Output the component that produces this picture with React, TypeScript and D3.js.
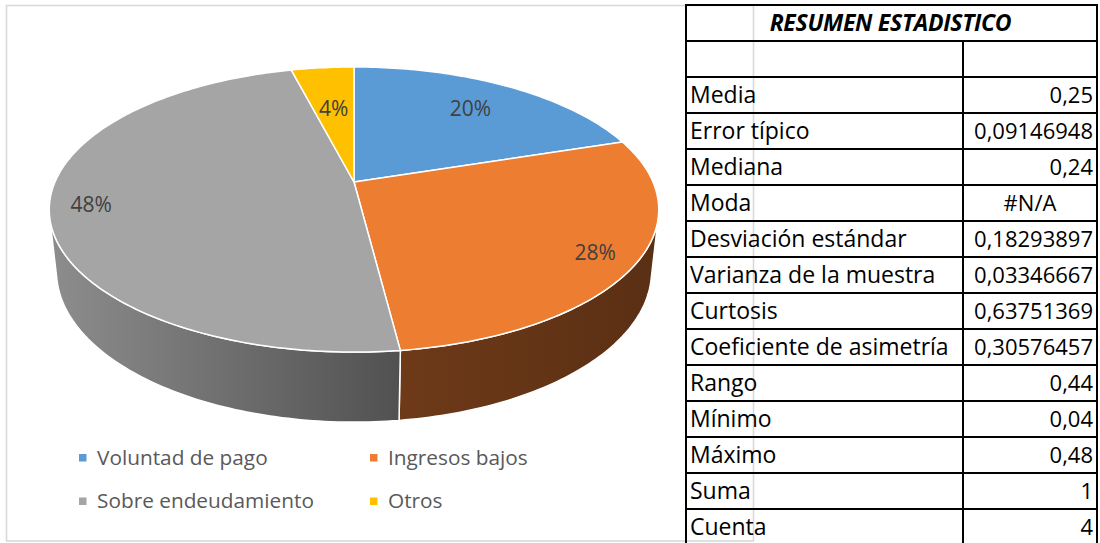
import React from 'react';
import * as d3 from 'd3';

const categories = ["Voluntad de pago", "Ingresos bajos", "Sobre endeudamiento", "Otros"];
const shares = [20, 28, 48, 4];
const topColors = ["#5B9BD5", "#ED7D31", "#A5A5A5", "#FFC000"];
const sideLight = ["#3f6d97", "#6e3a18", "#8d8d8d", "#b38600"];
const sideDark = ["#2e5275", "#5a2f14", "#515151", "#8a6a00"];

const tableTitle = "RESUMEN ESTADISTICO";
const statLabels = [
  "Media", "Error típico", "Mediana", "Moda", "Desviación estándar",
  "Varianza de la muestra", "Curtosis", "Coeficiente de asimetría",
  "Rango", "Mínimo", "Máximo", "Suma", "Cuenta",
];
const statValues = [
  "0,25", "0,09146948", "0,24", "#N/A", "0,18293897", "0,03346667",
  "0,63751369", "0,30576457", "0,44", "0,04", "0,48", "1", "4",
];

// perspective camera for the 3D pie
const CX = 354, CY = 182;
const B = 299;
const SIN_E = 0.459, COS_E = 0.888;
const LD = 4.6;
const H = 0.234;

function project(x: number, y: number, z: number): [number, number] {
  const depth = LD - y * COS_E - z * SIN_E;
  const down = y * SIN_E - z * COS_E;
  const f = B * LD;
  return [CX + (f * x) / depth, CY + (f * down) / depth];
}

function arcPts(t0: number, t1: number, z: number): [number, number][] {
  const n = Math.max(2, Math.ceil(((t1 - t0) * 180) / Math.PI));
  const pts: [number, number][] = [];
  for (let i = 0; i <= n; i++) {
    const t = t0 + ((t1 - t0) * i) / n;
    pts.push(project(Math.sin(t), -Math.cos(t), z));
  }
  return pts;
}

export default function App() {
  const pieGen = d3.pie<number>().sort(null).value((d) => d).startAngle(0).endAngle(2 * Math.PI);
  const arcs = pieGen(shares);
  const color = d3.scaleOrdinal<number, string>().domain(d3.range(categories.length)).range(topColors);
  const line = d3.line();
  const apex = project(0, 0, 0);

  const yT = 1 / (LD * COS_E);
  const visA = Math.acos(-yT);
  const visB = 2 * Math.PI - visA;

  const fmtPct = d3.format(".0%");
  const total = d3.sum(shares);

  const tLeft = 686, tDiv = 963, tRight = 1097;
  const rowY = d3.scaleLinear().domain([0, 1]).range([5, 41]);
  const nRows = statLabels.length + 2;

  const legendCols = [79, 370];
  const legendRows = [457.5, 501];

  return (
    <svg width={1100} height={543} style={{ position: 'absolute', left: 0, top: 0, background: '#fff' }}
      fontFamily="'Open Sans', sans-serif">
      <defs>
        {arcs.map((a, i) => {
          const v0 = Math.max(a.startAngle, visA), v1 = Math.min(a.endAngle, visB);
          if (v1 <= v0) return null;
          const pts = arcPts(v0, v1, 0);
          const xs = pts.map((p) => p[0]);
          return (
            <linearGradient key={i} id={`side${i}`} gradientUnits="userSpaceOnUse"
              x1={d3.min(xs)} x2={d3.max(xs)} y1={0} y2={0}>
              <stop offset="0%" stopColor={sideLight[i]} />
              <stop offset="100%" stopColor={sideDark[i]} />
            </linearGradient>
          );
        })}
      </defs>
      <rect x={0} y={0} width={1100} height={543} fill="#fff" />
      <rect x={6.5} y={5.5} width={747} height={535.5} fill="none" stroke="#d9d9d9" strokeWidth={1.6} />

      {arcs.map((a, i) => {
        const v0 = Math.max(a.startAngle, visA), v1 = Math.min(a.endAngle, visB);
        if (v1 <= v0) return null;
        const pts = arcPts(v0, v1, 0).concat(arcPts(v0, v1, -H).reverse());
        return <path key={i} d={line(pts) + 'Z'} fill={`url(#side${i})`} stroke="#fff" strokeWidth={1.5} strokeLinejoin="round" />;
      })}
      {arcs.map((a, i) => {
        const pts = [apex, ...arcPts(a.startAngle, a.endAngle, 0)];
        return <path key={i} d={line(pts) + 'Z'} fill={color(i)} stroke="#fff" strokeWidth={1.5} strokeLinejoin="round" />;
      })}
      {arcs.map((a, i) => {
        const m = (a.startAngle + a.endAngle) / 2;
        const rim = project(Math.sin(m), -Math.cos(m), 0);
        const dx = apex[0] - rim[0], dy = apex[1] - rim[1];
        const len = Math.hypot(dx, dy);
        const px = rim[0] + (42 * dx) / len, py = rim[1] + (42 * dy) / len;
        return (
          <text key={i} x={px} y={py} dy="0.35em" textAnchor="middle" fontSize={21} fill="#404040">
            {fmtPct(a.data / total)}
          </text>
        );
      })}
      {categories.map((c, i) => {
        const x = legendCols[i % 2], y = legendRows[Math.floor(i / 2)];
        return (
          <g key={c}>
            <rect x={x} y={y - 3.5} width={7.5} height={7.5} fill={color(i)} />
            <text x={x + 18} y={y} dy="0.35em" fontSize={20.8} fill="#595959">{c}</text>
          </g>
        );
      })}

      <g stroke="#000" strokeWidth={2}>
        {d3.range(nRows + 1).map((r) => (
          <line key={r} x1={tLeft} x2={tRight} y1={rowY(r)} y2={rowY(r)} />
        ))}
        <line x1={tLeft} x2={tLeft} y1={rowY(0) - 1} y2={543} />
        <line x1={tRight} x2={tRight} y1={rowY(0) - 1} y2={543} />
        <line x1={tDiv} x2={tDiv} y1={rowY(1)} y2={543} />
      </g>
      <text x={(tLeft + tRight) / 2 - 1} y={rowY(0.5)} dy="0.35em" textAnchor="middle" fontSize={23}
        fontWeight="bold" fontStyle="italic" fill="#000" letterSpacing={-0.3}>{tableTitle}</text>
      {statLabels.map((s, i) => (
        <text key={s} x={tLeft + 4} y={rowY(i + 2.5)} dy="0.35em" fontSize={23} fill="#000">{s}</text>
      ))}
      {statValues.map((v, i) => (
        v.startsWith('#')
          ? <text key={i} x={(tDiv + tRight) / 2} y={rowY(i + 2.5)} dy="0.35em" textAnchor="middle" fontSize={22} fill="#000">{v}</text>
          : <text key={i} x={tRight - 4} y={rowY(i + 2.5)} dy="0.35em" textAnchor="end" fontSize={22} fill="#000">{v}</text>
      ))}
    </svg>
  );
}
